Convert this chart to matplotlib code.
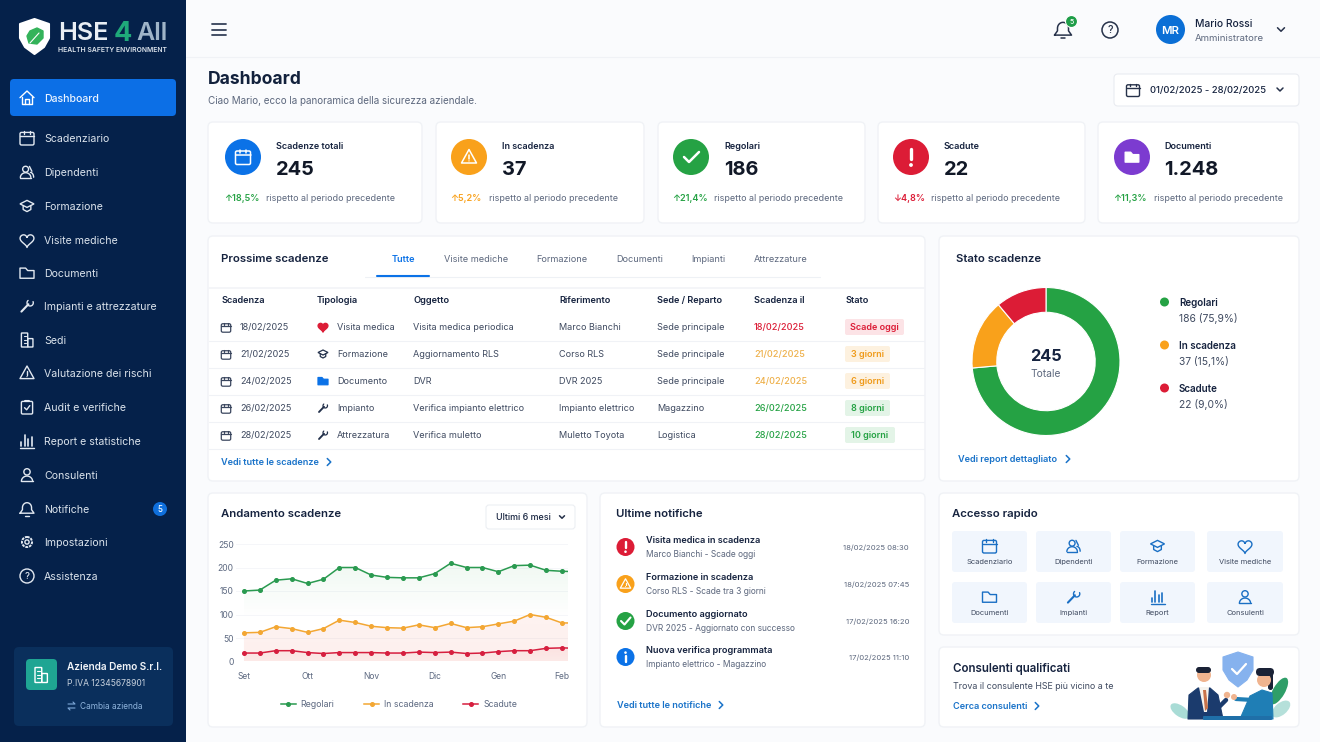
import numpy as np
import matplotlib
matplotlib.use("Agg")
import matplotlib.pyplot as plt
from matplotlib.patches import FancyBboxPatch, Circle, Polygon, Ellipse

plt.rcParams['font.family'] = ['Inter', 'DejaVu Sans']

W, H = 1320, 742

# chart data
months = ["Set", "Ott", "Nov", "Dic", "Gen", "Feb"]
regolari = [150, 152, 173, 176, 166, 175, 200, 200, 184, 179, 178, 178, 187, 209, 200, 200, 191, 204, 205, 194, 192, 191]
in_scadenza = [61, 62, 74, 70, 62, 70, 88, 83, 75, 72, 71, 78, 72, 81, 72, 74, 80, 86, 100, 94, 82, 82]
scadute = [18, 18, 23, 23, 19, 17, 19, 19, 19, 18, 18, 20, 19, 20, 17, 18, 21, 23, 23, 28, 29, 28]
y_ticks = [0, 50, 100, 150, 200, 250]

# slice sizes as they are drawn in the picture (percent of the ring)
donut_shares = [73.6, 15.3, 11.1]
donut_labels = ["Regolari", "In scadenza", "Scadute"]
donut_texts = ["186 (75,9%)", "37 (15,1%)", "22 (9,0%)"]

# page content
nav_items = ["Scadenziario", "Dipendenti", "Formazione", "Visite mediche", "Documenti",
             "Impianti e attrezzature", "Sedi", "Valutazione dei rischi", "Audit e verifiche",
             "Report e statistiche", "Consulenti", "Notifiche", "Impostazioni", "Assistenza"]
nav_icons = ["cal", "people", "cap", "heart", "folder", "wrench", "building", "warn", "clip",
             "bars", "person", "bell", "gear", "help"]
nav_y = [138, 172, 206, 240, 273, 306, 340, 373, 407, 441, 475, 509, 542, 576]

kpi_labels = ["Scadenze totali", "In scadenza", "Regolari", "Scadute", "Documenti"]
kpi_values = ["245", "37", "186", "22", "1.248"]
kpi_deltas = ["18,5%", "5,2%", "21,4%", "4,8%", "11,3%"]
kpi_arrows = ["↑", "↑", "↑", "↓", "↑"]

table_headers = ["Scadenza", "Tipologia", "Oggetto", "Riferimento", "Sede / Reparto", "Scadenza il", "Stato"]
table_dates = ["18/02/2025", "21/02/2025", "24/02/2025", "26/02/2025", "28/02/2025"]
table_types = ["Visita medica", "Formazione", "Documento", "Impianto", "Attrezzatura"]
table_objects = ["Visita medica periodica", "Aggiornamento RLS", "DVR", "Verifica impianto elettrico", "Verifica muletto"]
table_refs = ["Marco Bianchi", "Corso RLS", "DVR 2025", "Impianto elettrico", "Muletto Toyota"]
table_sites = ["Sede principale", "Sede principale", "Sede principale", "Magazzino", "Logistica"]
table_status = ["Scade oggi", "3 giorni", "6 giorni", "8 giorni", "10 giorni"]

tabs = ["Visite mediche", "Formazione", "Documenti", "Impianti", "Attrezzature"]

notif_titles = ["Visita medica in scadenza", "Formazione in scadenza", "Documento aggiornato", "Nuova verifica programmata"]
notif_subs = ["Marco Bianchi - Scade oggi", "Corso RLS - Scade tra 3 giorni", "DVR 2025 - Aggiornato con successo", "Impianto elettrico - Magazzino"]
notif_times = ["18/02/2025 08:30", "18/02/2025 07:45", "17/02/2025 16:20", "17/02/2025 11:10"]

quick_labels = ["Scadenziario", "Dipendenti", "Formazione", "Visite mediche", "Documenti", "Impianti", "Report", "Consulenti"]
quick_icons = ["cal", "people", "cap", "heart", "folder", "wrench", "bars", "person"]

NAVY = "#05214a"
INK = "#16233f"
GREY = "#5c677d"
BLUE = "#0b72e7"
GREEN = "#25a244"
ORANGE = "#f9a11b"
RED = "#dc1c36"
PURPLE = "#7c3bd0"
LINE = "#f0f2f6"
LINK = "#1a73c9"

fig = plt.figure(figsize=(W / 100, H / 100), dpi=100, facecolor="#fafbfd")
bg = fig.add_axes([0, 0, 1, 1], zorder=0)
bg.set_xlim(0, W)
bg.set_ylim(H, 0)
bg.axis("off")


def box(x0, y0, x1, y1, r=5, fc="white", ec="none", lw=0.8, z=1):
    p = FancyBboxPatch((x0, y0), x1 - x0, y1 - y0, boxstyle=f"round,pad=0,rounding_size={r}",
                       fc=fc, ec=ec, lw=lw, zorder=z)
    bg.add_patch(p)
    return p


def card(x0, y0, x1, y1):
    box(x0, y0, x1, y1, r=5, fc="white", ec="#f0f2f6", lw=1.0)


def txt(x, y, s, size=7.0, color=GREY, weight="normal", ha="left", z=5):
    # baseline placed so that capitals sit centred on y
    return bg.text(x, y + size * 0.5, s, fontsize=size, color=color, fontweight=weight, ha=ha, va="baseline", zorder=z)


def seg(xs, ys, color, lw=1.1, z=6):
    bg.plot(xs, ys, color=color, lw=lw, solid_capstyle="round", solid_joinstyle="round", zorder=z)


def dot(x, y, r, color, z=6):
    bg.add_patch(Circle((x, y), r, fc=color, ec="none", zorder=z))


def chevron(x, y, color, s=3, down=True, lw=1.1):
    if down:
        seg([x - s, x, x + s], [y - s / 2, y + s / 2, y - s / 2], color, lw)
    else:
        seg([x - s / 2, x + s / 2, x - s / 2], [y - s, y, y + s], color, lw)


def icon(kind, x, y, color, s=7.0, lw=1.0, fill=False):
    # rough line icons drawn around (x, y), s is the half size
    if kind == "cal":
        box(x - s, y - s * 0.8, x + s, y + s, r=1.5, fc="none", ec=color, lw=lw, z=6)
        seg([x - s, x + s], [y - s * 0.3, y - s * 0.3], color, lw)
        seg([x - s * 0.45] * 2, [y - s, y - s * 0.6], color, lw)
        seg([x + s * 0.45] * 2, [y - s, y - s * 0.6], color, lw)
    elif kind == "people":
        bg.add_patch(Circle((x - s * 0.2, y - s * 0.4), s * 0.42, fc="none", ec=color, lw=lw, zorder=6))
        t = np.linspace(np.pi, 2 * np.pi, 20)
        seg(x - s * 0.2 + s * 0.75 * np.cos(t), y + s * 0.8 + s * 0.7 * np.sin(t), color, lw)
        seg([x - s * 0.95, x + s * 0.55], [y + s * 0.8, y + s * 0.8], color, lw)
        seg(x + s * 0.45 + s * 0.5 * np.cos(t[10:]), y + s * 0.75 + s * 0.7 * np.sin(t[10:]), color, lw)
        seg([x + s * 0.35, x + s * 0.7], [y - s * 0.8, y - s * 0.1], color, lw)
    elif kind == "cap":
        bg.add_patch(Polygon([(x - s, y - s * 0.3), (x, y - s * 0.8), (x + s, y - s * 0.3), (x, y + s * 0.2)],
                             fc="none", ec=color, lw=lw, zorder=6))
        seg([x - s * 0.55, x - s * 0.55, x, x + s * 0.55, x + s * 0.55],
            [y, y + s * 0.5, y + s * 0.8, y + s * 0.5, y], color, lw)
    elif kind == "heart":
        t = np.linspace(0, 2 * np.pi, 60)
        hx = x + s * 0.062 * 16 * np.sin(t) ** 3
        hy = y - s * 0.062 * (13 * np.cos(t) - 5 * np.cos(2 * t) - 2 * np.cos(3 * t) - np.cos(4 * t))
        bg.add_patch(Polygon(np.c_[hx, hy], fc=color if fill else "none", ec=color, lw=lw, zorder=6))
    elif kind == "folder":
        pts = [(x - s, y - s * 0.7), (x - s * 0.2, y - s * 0.7), (x + s * 0.1, y - s * 0.35),
               (x + s, y - s * 0.35), (x + s, y + s * 0.75), (x - s, y + s * 0.75)]
        bg.add_patch(Polygon(pts, fc=color if fill else "none", ec=color, lw=lw, joinstyle="round", zorder=6))
    elif kind == "wrench":
        seg([x - s * 0.8, x + s * 0.2], [y + s * 0.8, y - s * 0.25], color, lw * 1.5)
        t = np.linspace(-0.4, 4.0, 20)
        seg(x + s * 0.45 + s * 0.45 * np.cos(t), y - s * 0.45 + s * 0.45 * np.sin(t), color, lw)
    elif kind == "building":
        box(x - s * 0.8, y - s, x + s * 0.1, y + s, r=0.5, fc="none", ec=color, lw=lw, z=6)
        box(x + s * 0.1, y - s * 0.2, x + s * 0.85, y + s, r=0.5, fc="none", ec=color, lw=lw, z=6)
        for dy in (-0.55, -0.05, 0.45):
            seg([x - s * 0.5, x - s * 0.2], [y + dy * s] * 2, color, lw * 0.8)
    elif kind == "warn":
        bg.add_patch(Polygon([(x, y - s), (x + s, y + s * 0.8), (x - s, y + s * 0.8)], fc="none", ec=color,
                             lw=lw, joinstyle="round", zorder=6))
        seg([x, x], [y - s * 0.25, y + s * 0.25], color, lw)
        dot(x, y + s * 0.52, lw * 0.6, color)
    elif kind == "clip":
        box(x - s * 0.8, y - s * 0.8, x + s * 0.8, y + s, r=1.2, fc="none", ec=color, lw=lw, z=6)
        seg([x - s * 0.3, x + s * 0.3], [y - s * 0.9, y - s * 0.9], color, lw * 1.5)
        seg([x - s * 0.35, x - s * 0.05, x + s * 0.4], [y + s * 0.1, y + s * 0.4, y - s * 0.2], color, lw)
    elif kind == "bars":
        for dx, top in zip((-0.8, -0.3, 0.2, 0.7), (0.1, -0.8, -0.3, -0.55)):
            seg([x + dx * s] * 2, [y + s * 0.75, y + top * s], color, lw * 1.2)
        seg([x - s, x + s], [y + s, y + s], color, lw)
    elif kind == "person":
        bg.add_patch(Circle((x, y - s * 0.45), s * 0.45, fc="none", ec=color, lw=lw, zorder=6))
        t = np.linspace(np.pi, 2 * np.pi, 20)
        seg(x + s * 0.8 * np.cos(t), y + s * 0.9 + s * 0.75 * np.sin(t), color, lw)
        seg([x - s * 0.8, x + s * 0.8], [y + s * 0.9, y + s * 0.9], color, lw)
    elif kind == "bell":
        t = np.linspace(np.pi, 2 * np.pi, 20)
        bx = np.r_[x - s, x - s * 0.65, x + s * 0.65 * np.cos(t), x + s * 0.65, x + s, x - s]
        by = np.r_[y + s * 0.6, y + s * 0.1, y - s * 0.2 + s * 0.7 * np.sin(t), y + s * 0.1, y + s * 0.6, y + s * 0.6]
        seg(bx, by, color, lw)
        seg([x - s * 0.25, x + s * 0.25], [y + s * 0.95, y + s * 0.95], color, lw)
    elif kind == "gear":
        bg.add_patch(Circle((x, y), s * 0.72, fc="none", ec=color, lw=lw * 1.4, ls=(0, (1.4, 0.5)), zorder=6))
        bg.add_patch(Circle((x, y), s * 0.3, fc="none", ec=color, lw=lw, zorder=6))
    elif kind == "help":
        bg.add_patch(Circle((x, y), s, fc="none", ec=color, lw=lw, zorder=6))
        bg.text(x, y + 0.3, "?", color=color, fontsize=s * 0.95, ha="center", va="center", fontweight="medium", zorder=6)
    elif kind == "home":
        seg([x - s, x, x + s], [y - s * 0.05, y - s, y - s * 0.05], color, lw)
        seg([x - s * 0.75, x - s * 0.75, x + s * 0.75, x + s * 0.75], [y - s * 0.2, y + s * 0.85, y + s * 0.85, y - s * 0.2], color, lw)
        seg([x - s * 0.25, x - s * 0.25, x + s * 0.25, x + s * 0.25], [y + s * 0.85, y + s * 0.2, y + s * 0.2, y + s * 0.85], color, lw)


# sidebar
bg.fill_between([0, 186], [0, 0], [H, H], color=NAVY, lw=0, zorder=1)

shield = [(34.5, 19), (49, 24), (49, 38), (44, 47), (34.5, 54), (25, 47), (20, 38), (20, 24)]
bg.add_patch(Polygon(shield, fc="white", ec="white", lw=1.5, joinstyle="round", zorder=3))
bg.add_patch(Polygon([(37, 28), (43, 31), (43, 38), (37, 44), (29, 43), (27, 36), (30, 31)], fc="#34b35a", ec="#34b35a",
                     lw=1, joinstyle="round", zorder=4))
seg([30, 39], [43, 33], "white", 0.8)
txt(58, 31, "HSE", 18.2, "#e9eef4", "semibold")
txt(114, 31, "4", 19.5, "#1fa97a", "bold")
txt(136, 31, "All", 18, "#9fb4c8", "semibold")
txt(58.5, 50, "HEALTH SAFETY ENVIRONMENT", 4.9, "#dfe6ee", "semibold")

box(10, 79, 176, 116, r=4, fc="#0c6fe6", z=2)
icon("home", 27, 98, "white")
txt(44, 98, "Dashboard", 7.6, "#eaf3ff", "medium")
for lab, ic, y in zip(nav_items, nav_icons, nav_y):
    icon(ic, 27, y, "#e3e9f1")
    txt(44, y, lab, 7.6, "#dbe3ec")
dot(160, 509, 7, "#0f6fdc", z=4)
txt(160, 509, "5", 5.8, "white", "medium", ha="center")

box(14, 647, 173, 726, r=5, fc="#0a2f5c", z=2)
box(26, 659, 57, 690, r=4, fc="#1fa593", z=3)
icon("building", 41, 675, "white", s=7.5)
txt(67, 666, "Azienda Demo S.r.l.", 7.2, "#f2f5f9", "semibold")
txt(67, 683, "P.IVA 12345678901", 6.1, "#c9d3df")
seg([68, 75, 73], [704, 704, 702], "#7ea8d8", 0.8)
seg([75, 68, 70], [708, 708, 710], "#7ea8d8", 0.8)
txt(80, 706, "Cambia azienda", 6.0, "#8fb4dc")

# top bar
seg([186, 1320], [57, 57], "#f0f2f6", 0.8, z=1)
for y in (24, 29.5, 35):
    seg([211.5, 225.5], [y, y], "#35415a", 1.3)
icon("bell", 1063, 30, "#27324a", s=8.5, lw=1.1)
bg.add_patch(Circle((1071.5, 21.5), 6, fc="#1e9d48", ec="white", lw=0.8, zorder=7))
txt(1071.5, 21.5, "5", 5, "white", "medium", ha="center", z=8)
icon("help", 1110, 30, "#27324a", s=8, lw=1.1)
dot(1170.5, 29.5, 14.5, "#0b6fd6", z=4)
txt(1170.5, 29.5, "MR", 8.2, "white", "semibold", ha="center")
txt(1195, 23, "Mario Rossi", 7.4, INK, "medium")
txt(1195, 37.5, "Amministratore", 6.9, GREY)
chevron(1281, 29.5, "#27324a", 3.5)

txt(208, 78, "Dashboard", 12.6, "#12213c", "bold")
txt(208, 100, "Ciao Mario, ecco la panoramica della sicurezza aziendale.", 7.1, GREY)
box(1114, 74, 1299, 106, r=4, ec="#e9ecf1")
icon("cal", 1133, 90, "#27324a", s=6.5)
txt(1150, 89.5, "01/02/2025 - 28/02/2025", 6.85, INK, "medium")
chevron(1280, 89.5, "#27324a", 3)

# kpi cards
kpi_boxes = [(208, 422), (436, 644), (658, 865), (878, 1085), (1098, 1299)]
kpi_cx = [243, 469, 691, 911, 1132]
kpi_lx = [276, 502, 724, 944, 1164]
kpi_dx = [224, 450, 672, 893, 1113]
kpi_rx = [266, 489, 714, 931, 1154]
kpi_fill = [BLUE, ORANGE, GREEN, RED, PURPLE]
kpi_delta_col = [GREEN, ORANGE, GREEN, RED, GREEN]
for i in range(5):
    card(kpi_boxes[i][0], 122, kpi_boxes[i][1], 223)
    dot(kpi_cx[i], 157, 18, kpi_fill[i], z=4)
    txt(kpi_lx[i], 146, kpi_labels[i], 6.5, INK, "semibold")
    txt(kpi_lx[i], 168, kpi_values[i], 14.4, "#111827", "bold")
    txt(kpi_dx[i], 198, kpi_arrows[i] + kpi_deltas[i], 6.5, kpi_delta_col[i], "semibold")
    txt(kpi_rx[i], 198, "rispetto al periodo precedente", 6.45, GREY)
icon("cal", 243, 157, "white", s=7.5, lw=1.1)
icon("warn", 469, 157, "white", s=7.5, lw=1.1)
seg([684, 689, 699], [157, 162, 152], "white", 1.8)
seg([911, 911], [149, 159], "white", 2.4)
dot(911, 165, 1.9, "white")
icon("folder", 1132, 157, "white", s=6.8, fill=True)

# table card
card(208, 236, 925, 481)
txt(221, 258, "Prossime scadenze", 8.2, INK, "semibold")
seg([365, 820], [276.5, 276.5], "#eef1f5", 0.8)
seg([377, 429], [276, 276], BLUE, 1.5)
txt(403, 259, "Tutte", 6.6, BLUE, "semibold", ha="center")
for t, x in zip(tabs, [444, 536, 616, 691, 754]):
    txt(x, 259, t, 6.6, GREY)
seg([209, 924], [287.5, 287.5], "#f2f4f7", 1.2)

col_x = [221, 317, 413, 559, 657, 754, 845]
row_y = [327, 354, 381, 408, 435]
date_col = [RED, "#eeb04a", "#eeb04a", GREEN, GREEN]
badge_fc = ["#fce3e6", "#fdf1df", "#fdf1df", "#e3f4e7", "#e3f4e7"]
badge_tc = [RED, "#ef9a1a", "#ef9a1a", GREEN, GREEN]
badge_x1 = [904, 890, 890, 890, 895]
type_icons = ["heart", "cap", "folder", "wrench", "wrench"]
type_cols = [RED, "#22304a", BLUE, "#22304a", "#22304a"]
for h, x in zip(table_headers, col_x):
    txt(x, 300, h, 6.6, INK, "semibold")
for i, y in enumerate(row_y):
    icon("cal", 226, y + 0.5, "#3a465e", s=4.7, lw=0.9)
    txt(240, y, table_dates[i], 6.55, "#3f4a60")
    icon(type_icons[i], 323, y, type_cols[i], s=5, lw=0.9, fill=type_icons[i] in ("heart", "folder"))
    txt(337, y, table_types[i], 6.55, "#3f4a60")
    txt(413, y, table_objects[i], 6.55, "#3f4a60")
    txt(559, y, table_refs[i], 6.55, "#3f4a60")
    txt(657, y, table_sites[i], 6.55, "#3f4a60")
    txt(754, y, table_dates[i], 6.55, date_col[i], "medium")
    box(845, y - 8, badge_x1[i], y + 8, r=2, fc=badge_fc[i], z=3)
    txt((845 + badge_x1[i]) / 2, y, table_status[i], 6.5, badge_tc[i], "semibold", ha="center")
    seg([209, 924], [y + 14, y + 14], LINE, 0.8)
txt(221, 462, "Vedi tutte le scadenze", 6.6, LINK, "semibold")
chevron(329, 462, LINK, 3.5, down=False)

# donut card
card(939, 236, 1299, 481)
txt(956, 258, "Stato scadenze", 8.2, INK, "semibold")
dax = fig.add_axes([(1046 - 74) / W, 1 - (361.5 + 74) / H, 148 / W, 148 / H], zorder=2)
dax.pie(donut_shares, colors=[GREEN, ORANGE, RED], startangle=90, counterclock=False, radius=1,
        wedgeprops={"width": 0.335, "edgecolor": "white", "linewidth": 0.8})
dax.set_xlim(-1, 1)
dax.set_ylim(-1, 1)
txt(1046, 355, "245", 11.8, INK, "bold", ha="center")
txt(1046, 373, "Totale", 7.4, GREY, ha="center")
for lab, t, c, y in zip(donut_labels, donut_texts, [GREEN, ORANGE, RED], [302, 345, 388]):
    dot(1164.5, y, 4.5, c, z=4)
    txt(1179, y, lab, 7.1, INK, "semibold")
    txt(1179, y + 16, t, 7.4, "#3f4a60")
txt(958, 459, "Vedi report dettagliato", 6.6, LINK, "semibold")
chevron(1068, 459, LINK, 3.5, down=False)

# line chart card
card(208, 493, 587, 727)
txt(221, 513, "Andamento scadenze", 8.2, INK, "semibold")
box(486, 505, 575, 529, r=3, ec="#eceff3")
txt(496, 517, "Ultimi 6 mesi", 6.45, INK, "medium")
chevron(562, 517, "#27324a", 2.5)

ax = fig.add_axes([236 / W, 1 - 661.5 / H, (568 - 236) / W, (661.5 - 544) / H], zorder=3)
ax.patch.set_alpha(0)
xs = np.arange(len(regolari))


def gradient_fill(ax, ys, color, a_top, a_bottom, top, bottom):
    # vertical fade under a line, clipped to the area below it
    rgba = np.zeros((64, 2, 4))
    rgba[..., :3] = matplotlib.colors.to_rgb(color)
    rgba[..., 3] = np.linspace(a_top, a_bottom, 64)[:, None]
    im = ax.imshow(rgba, extent=(-0.5, 20.38, bottom, top), origin="upper", aspect="auto", zorder=1)
    poly = ax.fill_between(xs, 0, ys, color="none")
    im.set_clip_path(poly.get_paths()[0], transform=ax.transData)


gradient_fill(ax, regolari, GREEN, 0.07, 0.0, 210, 90)
gradient_fill(ax, in_scadenza, "#f4745e", 0.09, 0.11, 100, 0)
gradient_fill(ax, scadute, RED, 0.07, 0.03, 30, 0)
ax.set_xlim(-0.5, 20.38)
ax.set_ylim(0, 250)

ax.plot(xs, regolari, color="#2a9a50", lw=1.1, marker="o", ms=2.6, label="Regolari", zorder=4)
ax.plot(xs, in_scadenza, color="#f3a733", lw=1.1, marker="o", ms=2.6, label="In scadenza", zorder=4)
ax.plot(xs, scadute, color="#d61f3f", lw=1.1, marker="o", ms=2.6, label="Scadute", zorder=4)
ax.set_xticks(np.arange(0, 21, 4), months)
ax.set_yticks(y_ticks)
ax.tick_params(length=0, labelsize=6.1, labelcolor="#5c6880")
ax.tick_params(axis="x", pad=7.5)
ax.tick_params(axis="y", pad=1.7)
ax.grid(axis="y", color="#f5f6f9", lw=0.7)
ax.set_axisbelow(True)
for sp in ax.spines.values():
    sp.set_visible(False)
ax.legend(loc="upper center", bbox_to_anchor=(0.491, -0.26), ncol=3, frameon=False, fontsize=6.3,
          labelcolor="#5c6880", handlelength=1.7, columnspacing=3.4, handletextpad=0.55)

# notifications
card(600, 493, 925, 727)
txt(616, 513, "Ultime notifiche", 8.2, INK, "semibold")
notif_y = [547, 584, 621, 657]
notif_col = [RED, ORANGE, GREEN, BLUE]
for i, y in enumerate(notif_y):
    dot(625.5, y, 9, notif_col[i], z=4)
    txt(646, y - 7, notif_titles[i], 6.6, INK, "semibold")
    txt(646, y + 6.5, notif_subs[i], 6.05, GREY)
    txt(909, y, notif_times[i], 5.5, GREY, ha="right")
seg([625.5, 625.5], [542, 548], "white", 1.7)
dot(625.5, 551.7, 1.3, "white")
icon("warn", 625.5, 584, "white", s=5.2, lw=0.9)
seg([621, 624.5, 630.5], [621, 624.5, 617.5], "white", 1.5)
seg([625.5, 625.5], [655.5, 661.5], "white", 1.7)
dot(625.5, 652.6, 1.3, "white")
txt(617, 705, "Vedi tutte le notifiche", 6.6, LINK, "semibold")
chevron(721, 705, LINK, 3.5, down=False)

# quick access
card(939, 493, 1299, 635)
txt(952, 513, "Accesso rapido", 8.2, INK, "semibold")
tile_x = [(952, 1027), (1036, 1111), (1120, 1195), (1207, 1283)]
tile_y = [(531, 572), (582, 623)]
for i, lab in enumerate(quick_labels):
    x0, x1 = tile_x[i % 4]
    y0, y1 = tile_y[i // 4]
    box(x0, y0, x1, y1, r=3, fc="#f1f6fd", z=2)
    icon(quick_icons[i], (x0 + x1) / 2, y0 + 15, "#1a6fc4", s=7)
    txt((x0 + x1) / 2, y0 + 30, lab, 5.4, "#3f4a60", ha="center")

# consultants
card(939, 647, 1299, 727)
txt(953, 668, "Consulenti qualificati", 8.3, INK, "semibold")
txt(953, 686, "Trova il consulente HSE più vicino a te", 6.4, "#3f4a60")
txt(953, 706, "Cerca consulenti", 6.55, LINK, "semibold")
chevron(1037, 706, LINK, 3.5, down=False)

# small illustration: shield, two people at a desk, plants
bg.add_patch(Polygon([(1238, 652), (1253, 657), (1253, 670), (1247, 680), (1238, 687), (1229, 680), (1223, 670), (1223, 657)],
                     fc="#86b2ee", ec="#86b2ee", lw=0.8, joinstyle="round", zorder=3))
seg([1232, 1237, 1246], [669, 674, 664], "white", 1.6)
bg.add_patch(Ellipse((1180, 711), 22, 11, angle=35, fc="#a9dcd6", zorder=3))
bg.add_patch(Ellipse((1279, 691), 12, 30, angle=30, fc="#2f9e68", zorder=3))
bg.add_patch(Ellipse((1281, 709), 22, 12, angle=-40, fc="#b5e0da", zorder=3))
bg.add_patch(Polygon([(1188, 719), (1189, 695), (1198, 688), (1210, 688), (1218, 695), (1223, 719)], fc="#1b3b6d",
                     ec="#1b3b6d", lw=0.8, joinstyle="round", zorder=4))
bg.add_patch(Polygon([(1199, 687), (1209, 687), (1207, 712), (1204, 712)], fc="#f6f3ee", zorder=5))
bg.add_patch(Polygon([(1203, 690), (1206, 690), (1208, 708), (1205, 711)], fc="#c8734a", zorder=5))
seg([1214, 1226], [712, 700], "#1b3b6d", 3.2)
dot(1227, 695, 3.2, "#f0b48f")
dot(1204, 675, 7, "#f0b48f", z=5)
box(1196, 667, 1211, 673, r=3, fc="#1a2236", z=6)
bg.add_patch(Polygon([(1240, 719), (1250, 696), (1262, 690), (1272, 693), (1273, 719)], fc="#1f7eb5",
                     ec="#1f7eb5", lw=0.8, joinstyle="round", zorder=4))
seg([1253, 1236], [700, 699], "#1f7eb5", 3)
dot(1234, 697, 3, "#f0b48f")
dot(1264, 680, 7, "#f0b48f", z=5)
box(1256, 668, 1274, 676, r=4, fc="#1a2236", z=6)
box(1268, 672, 1273, 690, r=2.5, fc="#1a2236", z=3)
box(1203, 716, 1272, 720, r=1, fc="#1f6fa8", z=6)

fig.savefig("out.png", dpi=100, facecolor=fig.get_facecolor())
